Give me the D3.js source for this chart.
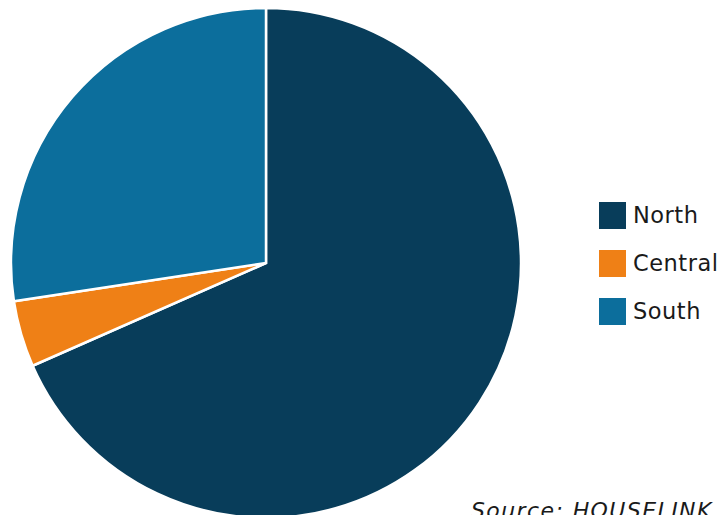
<!DOCTYPE html>
<html>
<head>
<meta charset="utf-8">
<script src="https://cdn.jsdelivr.net/npm/d3@7"></script>
<style>
  html, body { margin: 0; padding: 0; background: #fff; }
  svg { display: block; }
</style>
</head>
<body>
<svg id="chart" width="718" height="515"></svg>
<script>
// Share of listings by region
const regions = ["North", "Central", "South"];
const shares = [68.4, 4.2, 27.4];
const colors = ["#083d5a", "#ef8016", "#0c6e9c"];
const sourceText = "Source: HOUSELINK";

const svg = d3.select("#chart");
const cx = 266, cy = 263, radius = 255;

const color = d3.scaleOrdinal().domain(regions).range(colors);

const pie = d3.pie().sort(null).value(d => d.value);
const arc = d3.arc().innerRadius(0).outerRadius(radius);

const data = regions.map((r, i) => ({ name: r, value: shares[i] }));

svg.append("g")
  .attr("transform", `translate(${cx},${cy})`)
  .selectAll("path")
  .data(pie(data))
  .join("path")
  .attr("d", arc)
  .attr("fill", d => color(d.data.name))
  .attr("stroke", "#fff")
  .attr("stroke-width", 2.5)
  .attr("stroke-linejoin", "miter");

// Legend
const legend = svg.append("g").attr("transform", "translate(599,202)");
const rows = legend.selectAll("g")
  .data(regions)
  .join("g")
  .attr("transform", (d, i) => `translate(0,${i * 48})`);
rows.append("rect")
  .attr("width", 27).attr("height", 27)
  .attr("fill", d => color(d));
rows.append("text")
  .attr("x", 34).attr("y", 20.5)
  .attr("font-family", "DejaVu Sans, sans-serif")
  .attr("font-size", 22.5)
  .attr("letter-spacing", 0.5)
  .attr("fill", "#1a1a1a")
  .text(d => d);

// Source note, running off the bottom-right corner
svg.append("text")
  .attr("x", 471).attr("y", 518)
  .attr("font-family", "DejaVu Sans, sans-serif")
  .attr("font-style", "italic")
  .attr("font-size", 22)
  .attr("letter-spacing", 1.4)
  .attr("fill", "#1a1a1a")
  .text(sourceText);
</script>
</body>
</html>
